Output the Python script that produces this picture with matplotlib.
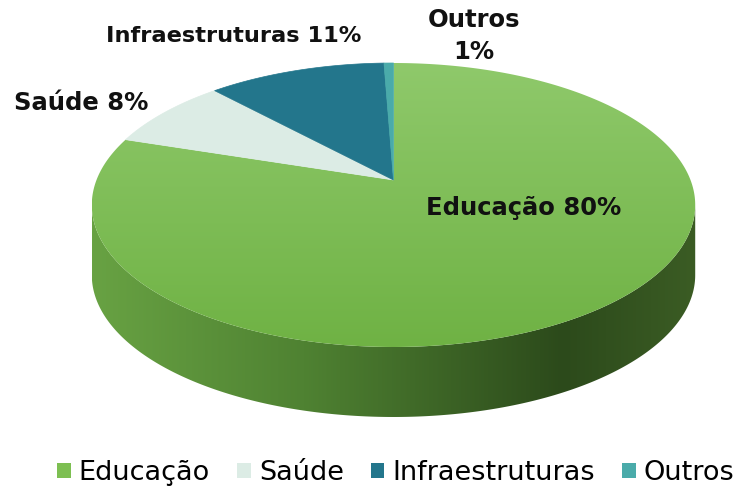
import numpy as np
import matplotlib.pyplot as plt
from matplotlib.colors import LinearSegmentedColormap
from matplotlib.patches import Polygon, Patch

categories = ["Educação", "Saúde", "Infraestruturas", "Outros"]
shares = [80.0, 8.1, 11.3, 0.6]
colors = ["#7dbf52", "#dcece5", "#23768c", "#4aabaa"]

# pseudo-3D geometry (pixels)
cx, cy = 393.5, 180.0
R, H, P = 297.0, 137.6, 0.176
T = 70.0


def proj(theta, r=1.0):
    u = r * np.sin(theta)
    v = r * np.cos(theta)
    k = 1.0 / (1.0 + P * v)
    return cx + R * u * k, cy - H * v * k


fig = plt.figure(figsize=(7.4, 4.88), dpi=100)
ax = fig.add_axes([0, 0, 1, 1])
ax.set_xlim(0, 740)
ax.set_ylim(488, 0)
ax.axis("off")

# side wall (only the front part is visible)
t = np.linspace(0, 2 * np.pi, 2000)
xs, ys = proj(t)
i_right = np.argmax(xs)
i_left = np.argmin(xs)
front = t[i_right:i_left + 1]
fx, fy = proj(front)
side_pts = np.vstack([np.column_stack([fx, fy]),
                      np.column_stack([fx[::-1], fy[::-1] + T])])
side = Polygon(side_pts, closed=True, facecolor="none", edgecolor="none")
ax.add_patch(side)
side_cmap = LinearSegmentedColormap.from_list(
    "side", [(0, "#68a243"), (0.35, "#4f8232"), (0.78, "#2c4a1b"), (1, "#3b5c24")])
grad = np.linspace(0, 1, 256).reshape(1, -1)
im = ax.imshow(grad, cmap=side_cmap, extent=(fx.min(), fx.max(), fy.max() + T, fy.min()),
               aspect="auto", zorder=1)
im.set_clip_path(side)

# top face wedges, clockwise from the back
top_cmap = LinearSegmentedColormap.from_list("top", ["#8fc96b", "#6fb244"])
fracs = np.array(shares) / sum(shares)
start = 0.0
for frac, col in zip(fracs, colors):
    end = start + frac * 2 * np.pi
    a = np.linspace(start, end, max(int(frac * 720), 4))
    wx, wy = proj(a)
    pts = np.vstack([[cx, cy], np.column_stack([wx, wy])])
    if col == colors[0]:
        wedge = Polygon(pts, closed=True, facecolor="none", edgecolor="none", zorder=2)
        ax.add_patch(wedge)
        vg = np.linspace(0, 1, 256).reshape(-1, 1)
        im2 = ax.imshow(vg, cmap=top_cmap, extent=(xs.min(), xs.max(), ys.max(), ys.min()),
                        aspect="auto", zorder=2)
        im2.set_clip_path(wedge)
    else:
        ax.add_patch(Polygon(pts, closed=True, facecolor=col, edgecolor=col,
                             linewidth=0.5, zorder=3))
    start = end

# data labels
lab = dict(fontweight="bold", ha="center", va="center", color="#111111", zorder=5)
pct = [f"{round(s):.0f}%" for s in shares]
ax.text(524, 208, f"{categories[0]} {pct[0]}", fontsize=17.5, **lab)
ax.text(81, 103, f"{categories[1]} {pct[1]}", fontsize=17.5, **lab)
ax.text(234, 36, f"{categories[2]} {pct[2]}", fontsize=16.2, **lab)
ax.text(474, 36, f"{categories[3]}\n{pct[3]}", fontsize=17.5, linespacing=1.45, **lab)

handles = [Patch(facecolor=c, edgecolor="none") for c in colors]
fig.legend(handles, categories, loc="center", bbox_to_anchor=(0.535, 1 - 473 / 488),
           ncol=4, frameon=False, fontsize=19.5, handlelength=0.5, handleheight=0.5,
           handletextpad=0.3, columnspacing=1.0)

fig.savefig("out.png", dpi=100)
